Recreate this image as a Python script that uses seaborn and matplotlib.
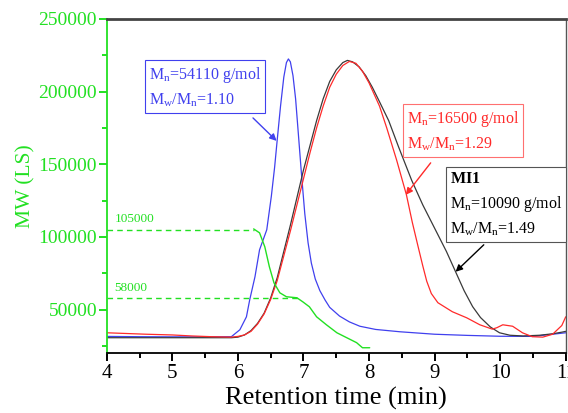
import matplotlib
matplotlib.use("Agg")
import matplotlib.pyplot as plt
import seaborn as sns
import numpy as np

# ---------------- data ----------------
blue_x = [4.0, 4.5, 5.0, 5.5, 5.9, 6.03, 6.13, 6.18, 6.26, 6.33, 6.44, 6.51, 6.56,
          6.60, 6.65, 6.70, 6.74, 6.77, 6.80, 6.84, 6.88, 6.92, 6.97, 7.02, 7.07,
          7.12, 7.18, 7.25, 7.33, 7.4, 7.55, 7.7, 7.86, 8.1, 8.47, 9.0, 9.5, 10.0,
          10.5, 11.0]
blue_y = [31500, 31300, 31200, 31200, 31300, 36100, 45000, 56700, 72500, 91100,
          104900, 128000, 148000, 167000, 190000, 210000, 220000, 222500, 220500,
          211000, 195000, 172000, 143000, 116000, 96000, 82000, 71000, 63000,
          56500, 51500, 45500, 41500, 38500, 36300, 34700, 33000, 32200, 31600,
          31500, 34000]

black_x = [4.0, 5.0, 5.9, 6.0, 6.1, 6.2, 6.3, 6.4, 6.5, 6.6, 6.7, 6.8, 6.9, 7.0,
           7.1, 7.2, 7.3, 7.4, 7.5, 7.6, 7.67, 7.75, 7.85, 7.95, 8.05, 8.16, 8.3,
           8.45, 8.65, 8.82, 9.0, 9.18, 9.33, 9.45, 9.58, 9.7, 9.85, 9.99, 10.15,
           10.35, 10.6, 10.8, 10.95, 11.0]
black_y = [30600, 30600, 30600, 31000, 32500, 35500, 40500, 47500, 58000, 72000,
           90000, 108000, 127000, 146000, 163000, 180000, 195000, 207000, 215000,
           220000, 221500, 220500, 217000, 211000, 203000, 193000, 180000, 162000,
           139000, 122000, 106000, 90000, 75000, 63000, 52000, 44500, 38000, 34000,
           32300, 31800, 32300, 33300, 34500, 35000]

red_x = [4.0, 4.3, 4.6, 5.0, 5.3, 5.6, 5.9, 6.0, 6.1, 6.2, 6.3, 6.4, 6.5, 6.6,
         6.7, 6.8, 6.9, 7.0, 7.1, 7.2, 7.3, 7.4, 7.5, 7.6, 7.7, 7.8, 7.9, 8.0,
         8.16, 8.27, 8.42, 8.57, 8.66, 8.75, 8.82, 8.88, 8.95, 9.05, 9.27, 9.49,
         9.69, 9.88, 9.95, 10.04, 10.19, 10.34, 10.49, 10.65, 10.8, 10.94, 11.0]
red_y = [34000, 33500, 33000, 32500, 31800, 31300, 31000, 31500, 32500, 35000,
         40000, 47000, 57000, 70000, 87000, 104000, 122000, 140000, 158000, 175000,
         190000, 203000, 212000, 218000, 220800, 219500, 214000, 206000, 190000,
         175000, 153000, 129000, 110000, 93000, 80000, 69500, 61000, 54700, 48500,
         44300, 39500, 36500, 37500, 39500, 38500, 34000, 31300, 31000, 33000,
         39000, 45000]

green_x = [6.24, 6.33, 6.41, 6.48, 6.55, 6.64, 6.74, 6.90, 6.99, 7.09, 7.20, 7.35,
           7.51, 7.66, 7.81, 7.90, 8.01]
green_y = [105500, 102800, 93200, 79400, 68400, 61500, 58800, 58100, 55300, 51900,
           45000, 39500, 34000, 30600, 27200, 23700, 23700]

ref_values = [105000, 58000]
ref_labels = ["105000", "58000"]
ref_end_x = [6.25, 6.92]

x_ticks = [4, 5, 6, 7, 8, 9, 10, 11]
y_ticks = [50000, 100000, 150000, 200000, 250000]

# ---------------- style ----------------
sns.set_style("ticks")
plt.rcParams.update({
    'font.family': ['Liberation Serif', 'DejaVu Serif'],
    'mathtext.fontset': 'custom',
    'mathtext.rm': 'Liberation Serif',
    'mathtext.it': 'Liberation Serif:italic',
    'mathtext.bf': 'Liberation Serif:bold',
})

GREEN = '#22e022'
BLUE = '#4040ee'
RED = '#ff2a2a'
BLACK = '#3a3a3a'

fig = plt.figure(figsize=(5.68, 4.13), dpi=100)
ax = fig.add_axes([0.188, 0.145, 0.808, 0.809])

sns.lineplot(x=blue_x, y=blue_y, ax=ax, color=BLUE, lw=0.9)
sns.lineplot(x=black_x, y=black_y, ax=ax, color=BLACK, lw=0.9)
sns.lineplot(x=red_x, y=red_y, ax=ax, color=RED, lw=0.9)
sns.lineplot(x=green_x, y=green_y, ax=ax, color=GREEN, lw=1.0)

for v, lab, xe in zip(ref_values, ref_labels, ref_end_x):
    ax.hlines(v, 4, xe, colors=GREEN, linestyles=(0, (4, 3)), lw=1.0)
    ax.text(4.12, v + 3000, lab, color=GREEN, fontsize=9.5, ha='left', va='bottom')

ax.set_xlim(4, 11)
ax.set_ylim(20000, 250000)
ax.set_xticks(x_ticks)
ax.set_xticklabels([str(t) for t in x_ticks])
ax.set_yticks(y_ticks)
ax.set_yticklabels([str(t) for t in y_ticks])
ax.xaxis.set_minor_locator(matplotlib.ticker.MultipleLocator(0.5))
ax.yaxis.set_minor_locator(matplotlib.ticker.MultipleLocator(25000))

ax.tick_params(axis='x', which='major', length=6, width=1.4, color='black',
               labelcolor='black', labelsize=15, pad=2, bottom=True, top=False,
               direction='out')
ax.tick_params(axis='x', which='minor', length=3.5, width=1.4, color='black',
               bottom=True, top=False, direction='out')
ax.tick_params(axis='y', which='major', length=6, width=1.4, color=GREEN,
               labelcolor=GREEN, labelsize=14, pad=1, left=True, right=False,
               direction='out')
ax.tick_params(axis='y', which='minor', length=3.5, width=1.4, color=GREEN,
               left=True, right=False, direction='out')

for s in ['top', 'right', 'bottom', 'left']:
    ax.spines[s].set_visible(True)
ax.spines['left'].set_color(GREEN)
ax.spines['left'].set_linewidth(1.3)
ax.spines['bottom'].set_color('black')
ax.spines['bottom'].set_linewidth(1.3)
ax.spines['top'].set_color('#444444')
ax.spines['top'].set_linewidth(2.0)
ax.spines['right'].set_color('#555555')
ax.spines['right'].set_linewidth(1.0)

ax.set_xlabel('Retention time (min)', fontsize=19, color='black', labelpad=3)
ax.set_ylabel('MW (LS)', fontsize=15.5, color=GREEN, labelpad=2)

# ---------------- annotation boxes ----------------
def box(x, y, txt, color, ec):
    ax.text(x, y, txt, transform=ax.transAxes, fontsize=11.5, color=color,
            ha='left', va='top', linespacing=1.5,
            bbox=dict(boxstyle='square,pad=0.25', fc='white', ec=ec, lw=0.8))

box(0.092, 0.862, 'M$_\\mathrm{n}$=54110 g/mol\nM$_\\mathrm{w}$/M$_\\mathrm{n}$=1.10',
    BLUE, BLUE)
box(0.654, 0.730, 'M$_\\mathrm{n}$=16500 g/mol\nM$_\\mathrm{w}$/M$_\\mathrm{n}$=1.29',
    RED, '#ff7070')
box(0.748, 0.545, '$\\mathbf{MI1}$\nM$_\\mathrm{n}$=10090 g/mol\nM$_\\mathrm{w}$/M$_\\mathrm{n}$=1.49',
    'black', '#555555')

def arrow(start, end, color):
    ax.annotate('', xy=end, xytext=start,
                arrowprops=dict(arrowstyle='-|>', color=color, lw=1.0,
                                mutation_scale=10, shrinkA=0, shrinkB=0))

arrow((6.23, 181900), (6.59, 166100), BLUE)
arrow((8.94, 150960), (8.56, 128950), RED)
arrow((9.75, 94560), (9.32, 75990), 'black')

fig.savefig('out.png', dpi=100)
